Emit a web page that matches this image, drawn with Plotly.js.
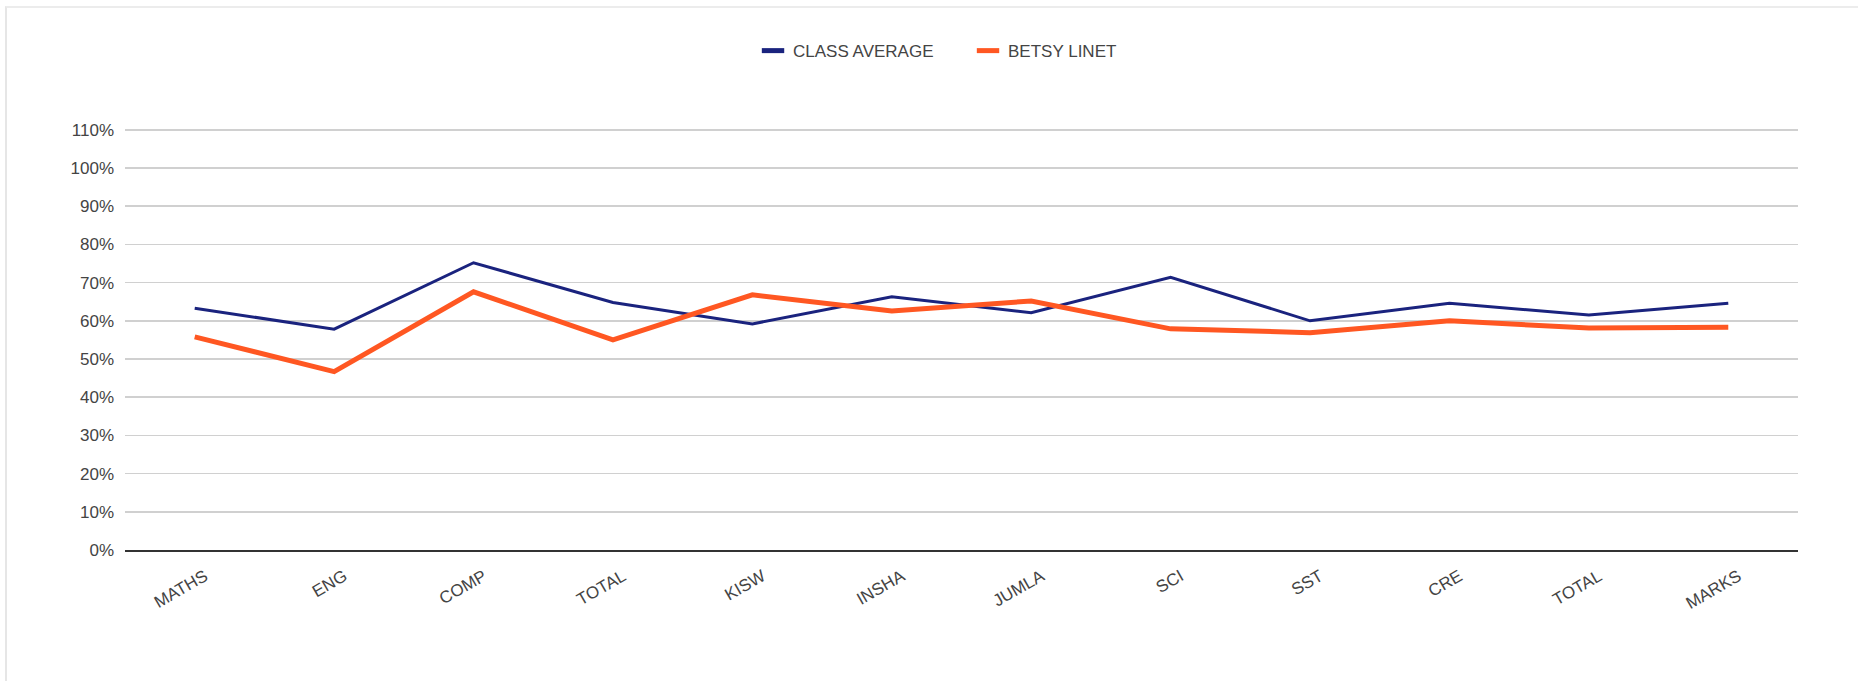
<!DOCTYPE html>
<html>
<head>
<meta charset="utf-8">
<script src="https://cdn.plot.ly/plotly-3.0.1.min.js"></script>
<style>
  html,body{margin:0;padding:0;background:#fff;overflow:hidden;}
  #chart{width:1858px;height:681px;}
  #frame{position:absolute;left:5px;top:6px;right:0;bottom:0;border-left:2px solid #e6e6e6;border-top:2px solid #ececec;pointer-events:none;}
</style>
</head>
<body>
<div id="chart"></div>
<div id="frame"></div>
<script>
const subjects = ['MATHS','ENG','COMP','TOTAL','KISW','INSHA','JUMLA','SCI','SST','CRE','TOTAL','MARKS'];
const classAverage = [0.633, 0.578, 0.752, 0.648, 0.592, 0.663, 0.621, 0.714, 0.600, 0.646, 0.615, 0.646];
const betsyLinet   = [0.558, 0.467, 0.676, 0.550, 0.668, 0.626, 0.652, 0.579, 0.569, 0.600, 0.581, 0.583];
const yTicks = [0,0.1,0.2,0.3,0.4,0.5,0.6,0.7,0.8,0.9,1.0,1.1];

const NAVY = '#1a237e', ORANGE = '#ff5722';
const FONT = '"Liberation Sans", Arial, sans-serif';
const idx = subjects.map((s,i)=>i);

const traces = [
  {x:idx, y:classAverage, type:'scatter', mode:'lines', name:'CLASS AVERAGE', showlegend:false,
   line:{color:NAVY, width:3}},
  {x:idx, y:betsyLinet, type:'scatter', mode:'lines', name:'BETSY LINET', showlegend:false,
   line:{color:ORANGE, width:5}},
  // legend-only entries, drawn as short bars like the original
  {x:[null], y:[null], type:'scatter', mode:'markers', name:'CLASS AVERAGE',
   marker:{symbol:'line-ew', size:16, color:NAVY, line:{color:NAVY, width:5}}},
  {x:[null], y:[null], type:'scatter', mode:'markers', name:'BETSY LINET',
   marker:{symbol:'line-ew', size:16, color:ORANGE, line:{color:ORANGE, width:5}}}
];

const layout = {
  width:1858, height:681,
  margin:{l:125, r:60, t:126, b:131},
  paper_bgcolor:'#fff', plot_bgcolor:'#fff',
  font:{family:FONT, size:17, color:'#444'},
  showlegend:true,
  legend:{orientation:'h', xref:'container', yref:'container', x:0.521, xanchor:'center', y:0.925, yanchor:'middle',
          font:{family:FONT, size:17, color:'#444'}, itemwidth:30, entrywidth:170},
  xaxis:{
    range:[-0.5, 11.5], tickmode:'array', tickvals:idx, ticktext:subjects,
    tickangle:-30, showgrid:false, zeroline:false, showline:true, linecolor:'#333', linewidth:2,
    ticks:'', ticklabelstandoff:8, ticklabelshift:10,
    tickfont:{family:FONT, size:17, color:'#444'}, fixedrange:true
  },
  yaxis:{
    range:[0, 1.11], tickmode:'array', tickvals:yTicks, tickformat:'.0%',
    showgrid:true, gridcolor:'#d0d0d0', gridwidth:1.5, zeroline:false, showline:false,
    ticks:'', ticklabelstandoff:10,
    tickfont:{family:FONT, size:17, color:'#444'}, fixedrange:true
  }
};

Plotly.newPlot('chart', traces, layout, {displayModeBar:false, staticPlot:true});
</script>
</body>
</html>
